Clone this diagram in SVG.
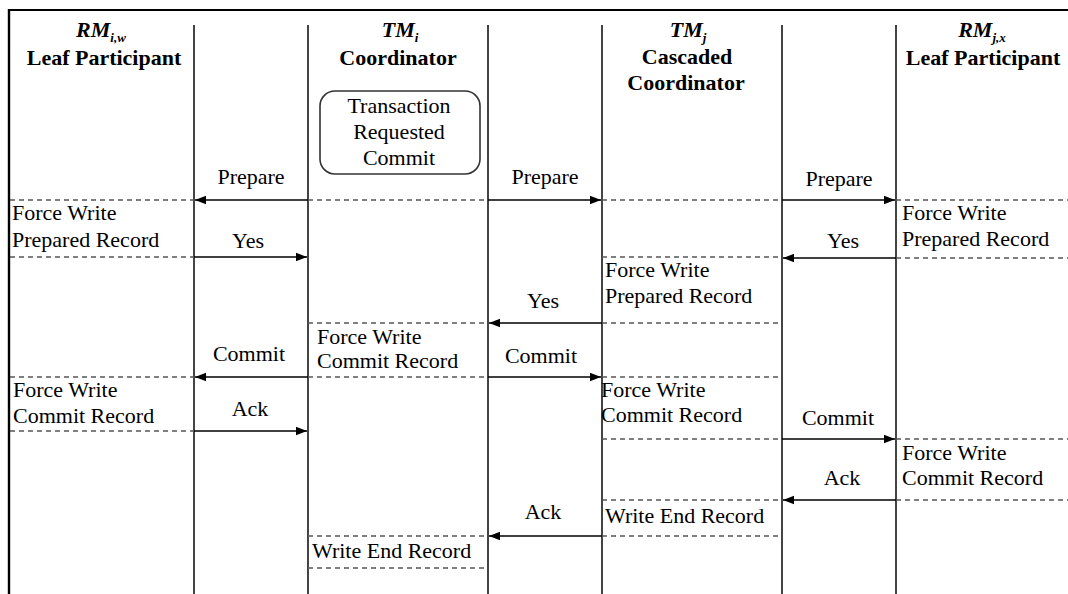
<svg xmlns="http://www.w3.org/2000/svg" width="1068" height="594" viewBox="0 0 1068 594">
<style>
  .t { font-family: 'Liberation Serif', 'DejaVu Serif', serif; font-size: 22px; fill: #000; }
  .h { font-family: 'Liberation Serif', 'DejaVu Serif', serif; font-size: 22px; font-weight: bold; fill: #000; }
  .hi { font-style: italic; }
  .sub { font-size: 13px; }
  .m { text-anchor: middle; }
  .life { stroke: #444; stroke-width: 2; fill: none; }
  .dash { stroke: #555; stroke-width: 1.6; stroke-dasharray: 5 4; fill: none; }
  .arr { stroke: #000; stroke-width: 1.6; fill: none; marker-end: url(#ah); }
  .box { stroke: #333; stroke-width: 1.6; fill: none; }
</style>
<defs>
  <marker id="ah" markerUnits="userSpaceOnUse" markerWidth="12" markerHeight="10" refX="11" refY="5" orient="auto">
    <path d="M0,0.8 L11,5 L0,9.2 Z" fill="#000"/>
  </marker>
</defs>
<rect x="0" y="0" width="1068" height="594" fill="#fff"/>
<g id="frame">
  <line x1="8" y1="10" x2="1068" y2="10" stroke="#000" stroke-width="2.2"/>
  <line x1="9" y1="9" x2="9" y2="594" stroke="#000" stroke-width="2.4"/>
</g>
<g id="lifelines">
  <line class="life" x1="194" y1="25" x2="194" y2="594"/>
  <line class="life" x1="308" y1="25" x2="308" y2="594"/>
  <line class="life" x1="488" y1="25" x2="488" y2="594"/>
  <line class="life" x1="602" y1="25" x2="602" y2="594"/>
  <line class="life" x1="782" y1="25" x2="782" y2="594"/>
  <line class="life" x1="896" y1="25" x2="896" y2="594"/>
</g>
<g id="rm-iw">
  <text class="h hi m" x="101" y="37" font-family="Liberation Serif, serif">RM<tspan class="sub" dy="5">i,w</tspan></text>
  <text class="h m" x="104" y="65" font-family="Liberation Serif, serif">Leaf Participant</text>
</g>
<g id="tm-i">
  <text class="h hi m" x="400" y="37">TM<tspan class="sub" dy="5">i</tspan></text>
  <text class="h m" x="398" y="65">Coordinator</text>
  <rect class="box" x="320" y="91" width="160" height="83" rx="15" ry="15"/>
  <text class="t m" x="399" y="113">Transaction</text>
  <text class="t m" x="399" y="139">Requested</text>
  <text class="t m" x="399" y="165">Commit</text>
</g>
<g id="tm-j">
  <text class="h hi m" x="688" y="37">TM<tspan class="sub" dy="5">j</tspan></text>
  <text class="h m" x="687" y="64">Cascaded</text>
  <text class="h m" x="686" y="90">Coordinator</text>
</g>
<g id="rm-jx">
  <text class="h hi m" x="982" y="37">RM<tspan class="sub" dy="5">j,x</tspan></text>
  <text class="h m" x="983" y="65">Leaf Participant</text>
</g>
<g id="connectors">
  <line class="dash" x1="10" y1="200" x2="194" y2="200"/>
  <line class="arr" x1="308" y1="200" x2="195" y2="200"/>
  <line class="dash" x1="308" y1="200" x2="488" y2="200"/>
  <line class="arr" x1="488" y1="200" x2="601" y2="200"/>
  <line class="dash" x1="602" y1="200" x2="782" y2="200"/>
  <line class="arr" x1="782" y1="200" x2="895" y2="200"/>
  <line class="dash" x1="896" y1="200" x2="1068" y2="200"/>
  <line class="dash" x1="10" y1="257" x2="194" y2="257"/>
  <line class="arr" x1="194" y1="257" x2="307" y2="257"/>
  <line class="dash" x1="602" y1="257" x2="782" y2="257"/>
  <line class="arr" x1="896" y1="258" x2="783" y2="258"/>
  <line class="dash" x1="896" y1="258" x2="1068" y2="258"/>
  <line class="dash" x1="308" y1="323" x2="488" y2="323"/>
  <line class="arr" x1="602" y1="323" x2="489" y2="323"/>
  <line class="dash" x1="602" y1="323" x2="782" y2="323"/>
  <line class="dash" x1="10" y1="377" x2="194" y2="377"/>
  <line class="arr" x1="308" y1="377" x2="195" y2="377"/>
  <line class="dash" x1="308" y1="377" x2="488" y2="377"/>
  <line class="arr" x1="488" y1="377" x2="601" y2="377"/>
  <line class="dash" x1="602" y1="377" x2="782" y2="377"/>
  <line class="dash" x1="10" y1="431" x2="194" y2="431"/>
  <line class="arr" x1="194" y1="431" x2="307" y2="431"/>
  <line class="dash" x1="602" y1="439" x2="782" y2="439"/>
  <line class="arr" x1="782" y1="439" x2="895" y2="439"/>
  <line class="dash" x1="896" y1="439" x2="1068" y2="439"/>
  <line class="dash" x1="602" y1="500" x2="782" y2="500"/>
  <line class="arr" x1="896" y1="500" x2="783" y2="500"/>
  <line class="dash" x1="896" y1="500" x2="1068" y2="500"/>
  <line class="dash" x1="308" y1="536" x2="488" y2="536"/>
  <line class="arr" x1="602" y1="536" x2="489" y2="536"/>
  <line class="dash" x1="602" y1="536" x2="782" y2="536"/>
  <line class="dash" x1="308" y1="568" x2="488" y2="568"/>
</g>
<g id="labels">
  <text class="t m" x="251" y="184">Prepare</text>
  <text class="t m" x="545" y="184">Prepare</text>
  <text class="t m" x="839" y="186">Prepare</text>
  <text class="t m" x="248" y="248">Yes</text>
  <text class="t m" x="843" y="248">Yes</text>
  <text class="t m" x="543" y="308">Yes</text>
  <text class="t m" x="249" y="361">Commit</text>
  <text class="t m" x="541" y="363">Commit</text>
  <text class="t m" x="838" y="425">Commit</text>
  <text class="t m" x="250" y="416">Ack</text>
  <text class="t m" x="842" y="485">Ack</text>
  <text class="t m" x="543" y="519">Ack</text>
</g>
<g id="records">
  <text class="t" x="12" y="220">Force Write</text>
  <text class="t" x="12" y="247">Prepared Record</text>
  <text class="t" x="902" y="220">Force Write</text>
  <text class="t" x="902" y="246">Prepared Record</text>
  <text class="t" x="605" y="277">Force Write</text>
  <text class="t" x="605" y="303">Prepared Record</text>
  <text class="t" x="317" y="344">Force Write</text>
  <text class="t" x="317" y="368">Commit Record</text>
  <text class="t" x="13" y="397">Force Write</text>
  <text class="t" x="13" y="423">Commit Record</text>
  <text class="t" x="601" y="397">Force Write</text>
  <text class="t" x="601" y="422">Commit Record</text>
  <text class="t" x="902" y="460">Force Write</text>
  <text class="t" x="902" y="485">Commit Record</text>
  <text class="t" x="605" y="523">Write End Record</text>
  <text class="t" x="312" y="558">Write End Record</text>
</g>
</svg>
